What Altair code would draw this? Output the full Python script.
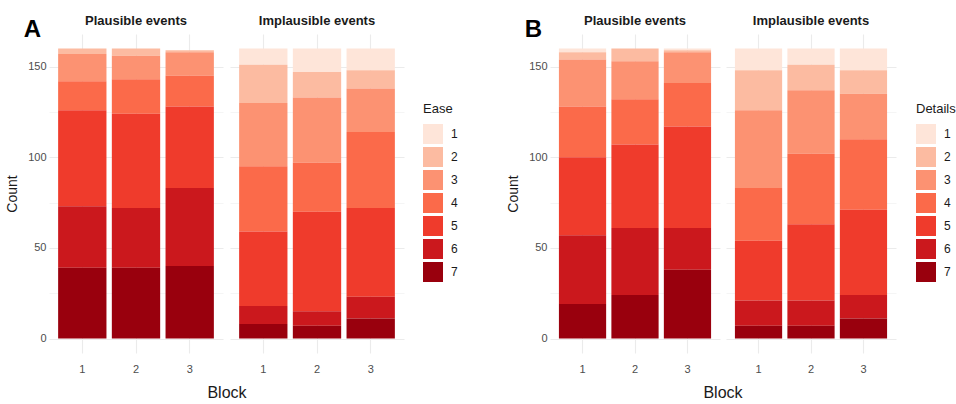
import altair as alt
import pandas as pd

blocks = ["1", "2", "3"]
levels = ["1", "2", "3", "4", "5", "6", "7"]
panels = ["Plausible events", "Implausible events"]
reds = ["#FEE5D9", "#FCBBA1", "#FC9272", "#FB6A4A", "#EF3B2C", "#CB181D", "#99000D"]

# counts for levels 1..7, per block
ease_plausible = [
    [0, 3, 15, 16, 53, 34, 39],
    [0, 4, 13, 19, 52, 33, 39],
    [0, 1, 13, 17, 45, 43, 40],
]
ease_implausible = [
    [9, 21, 35, 36, 41, 10, 8],
    [13, 14, 36, 27, 55, 8, 7],
    [12, 10, 24, 42, 49, 12, 11],
]
details_plausible = [
    [2, 4, 26, 28, 43, 38, 19],
    [0, 7, 21, 25, 46, 37, 24],
    [1, 1, 17, 24, 56, 23, 38],
]
details_implausible = [
    [12, 22, 43, 29, 33, 14, 7],
    [9, 14, 35, 39, 42, 14, 7],
    [12, 13, 25, 39, 47, 13, 11],
]


def make_df(plaus, implaus):
    rows = []
    for pname, tbl in zip(panels, [plaus, implaus]):
        for b, counts in zip(blocks, tbl):
            for lv, c in zip(levels, counts):
                rows.append({"panel": pname, "Block": b, "level": lv,
                             "lvl": int(lv), "Count": c})
    return pd.DataFrame(rows)


FONT = "Liberation Sans"


def half(df, legend_title, letter, cell_w, spacing, legend_x):
    base = alt.Chart(df).mark_bar().encode(
        x=alt.X("Block:N", sort=blocks,
                scale=alt.Scale(paddingInner=0.1, paddingOuter=0.17),
                axis=alt.Axis(title=None, labelAngle=0, ticks=False, domain=False,
                              labelFontSize=11, labelColor="#4d4d4d", labelPadding=10,
                              grid=True, bandPosition=0.5, gridColor="#ebebeb",
                              gridWidth=1.1)),
        y=alt.Y("Count:Q", stack="zero",
                scale=alt.Scale(domain=[-8, 168], nice=False, zero=False),
                axis=alt.Axis(title="Count", values=[0, 25, 50, 75, 100, 125, 150],
                              labelExpr="datum.value % 50 == 0 ? datum.label : ''",
                              ticks=False, domain=False, labelFontSize=11,
                              labelColor="#4d4d4d", labelPadding=3,
                              titleFontSize=14, titleFontWeight="normal",
                              titleColor="#1a1a1a", titlePadding=8,
                              gridColor="#ebebeb",
                              gridWidth=alt.ExprRef("datum.value % 50 == 0 ? 1.1 : 0.5"))),
        color=alt.Color("level:N", sort=levels,
                        scale=alt.Scale(domain=levels, range=reds),
                        legend=alt.Legend(title=legend_title, orient="none",
                                          legendX=legend_x, legendY=69,
                                          symbolType="square", symbolSize=400,
                                          symbolStrokeWidth=0, symbolOpacity=1,
                                          rowPadding=3, titleFontSize=13,
                                          titleFontWeight="normal", titleColor="#1a1a1a",
                                          labelFontSize=12, labelColor="#1a1a1a",
                                          titlePadding=8, labelOffset=8)),
        order=alt.Order("lvl:Q", sort="descending"),
    ).properties(width=cell_w, height=319)

    return base.facet(
        column=alt.Column("panel:N", sort=panels,
                          header=alt.Header(title="Block", titleOrient="bottom",
                                            labelOrient="top",
                                            titleFontSize=16, titleFontWeight="normal",
                                            titleFont=FONT, titleColor="#1a1a1a",
                                            titlePadding=1,
                                            labelFontSize=13,
                                            labelFontWeight="bold", labelFont=FONT,
                                            labelColor="#1a1a1a", labelPadding=6)),
        spacing=spacing,
        title=alt.TitleParams(letter, anchor="start", fontSize=24, fontWeight="bold",
                              font=FONT, color="black", offset=-27, frame="bounds",
                              dx=18),
    )


dfA = make_df(ease_plausible, ease_implausible)
dfB = make_df(details_plausible, details_implausible)

A = half(dfA, "Ease", "A", 174, 7, 374)
B = half(dfB, "Details", "B", 170, 6, 366)

chart = alt.hconcat(A, B, spacing=48).resolve_scale(color="independent").configure(
    font=FONT,
    padding={"left": 5, "right": 0, "top": 15, "bottom": 0},
).configure_view(stroke=None).configure_axis(labelFont=FONT, titleFont=FONT)

chart.save("out.html", embed_options={"renderer": "svg", "actions": False})
